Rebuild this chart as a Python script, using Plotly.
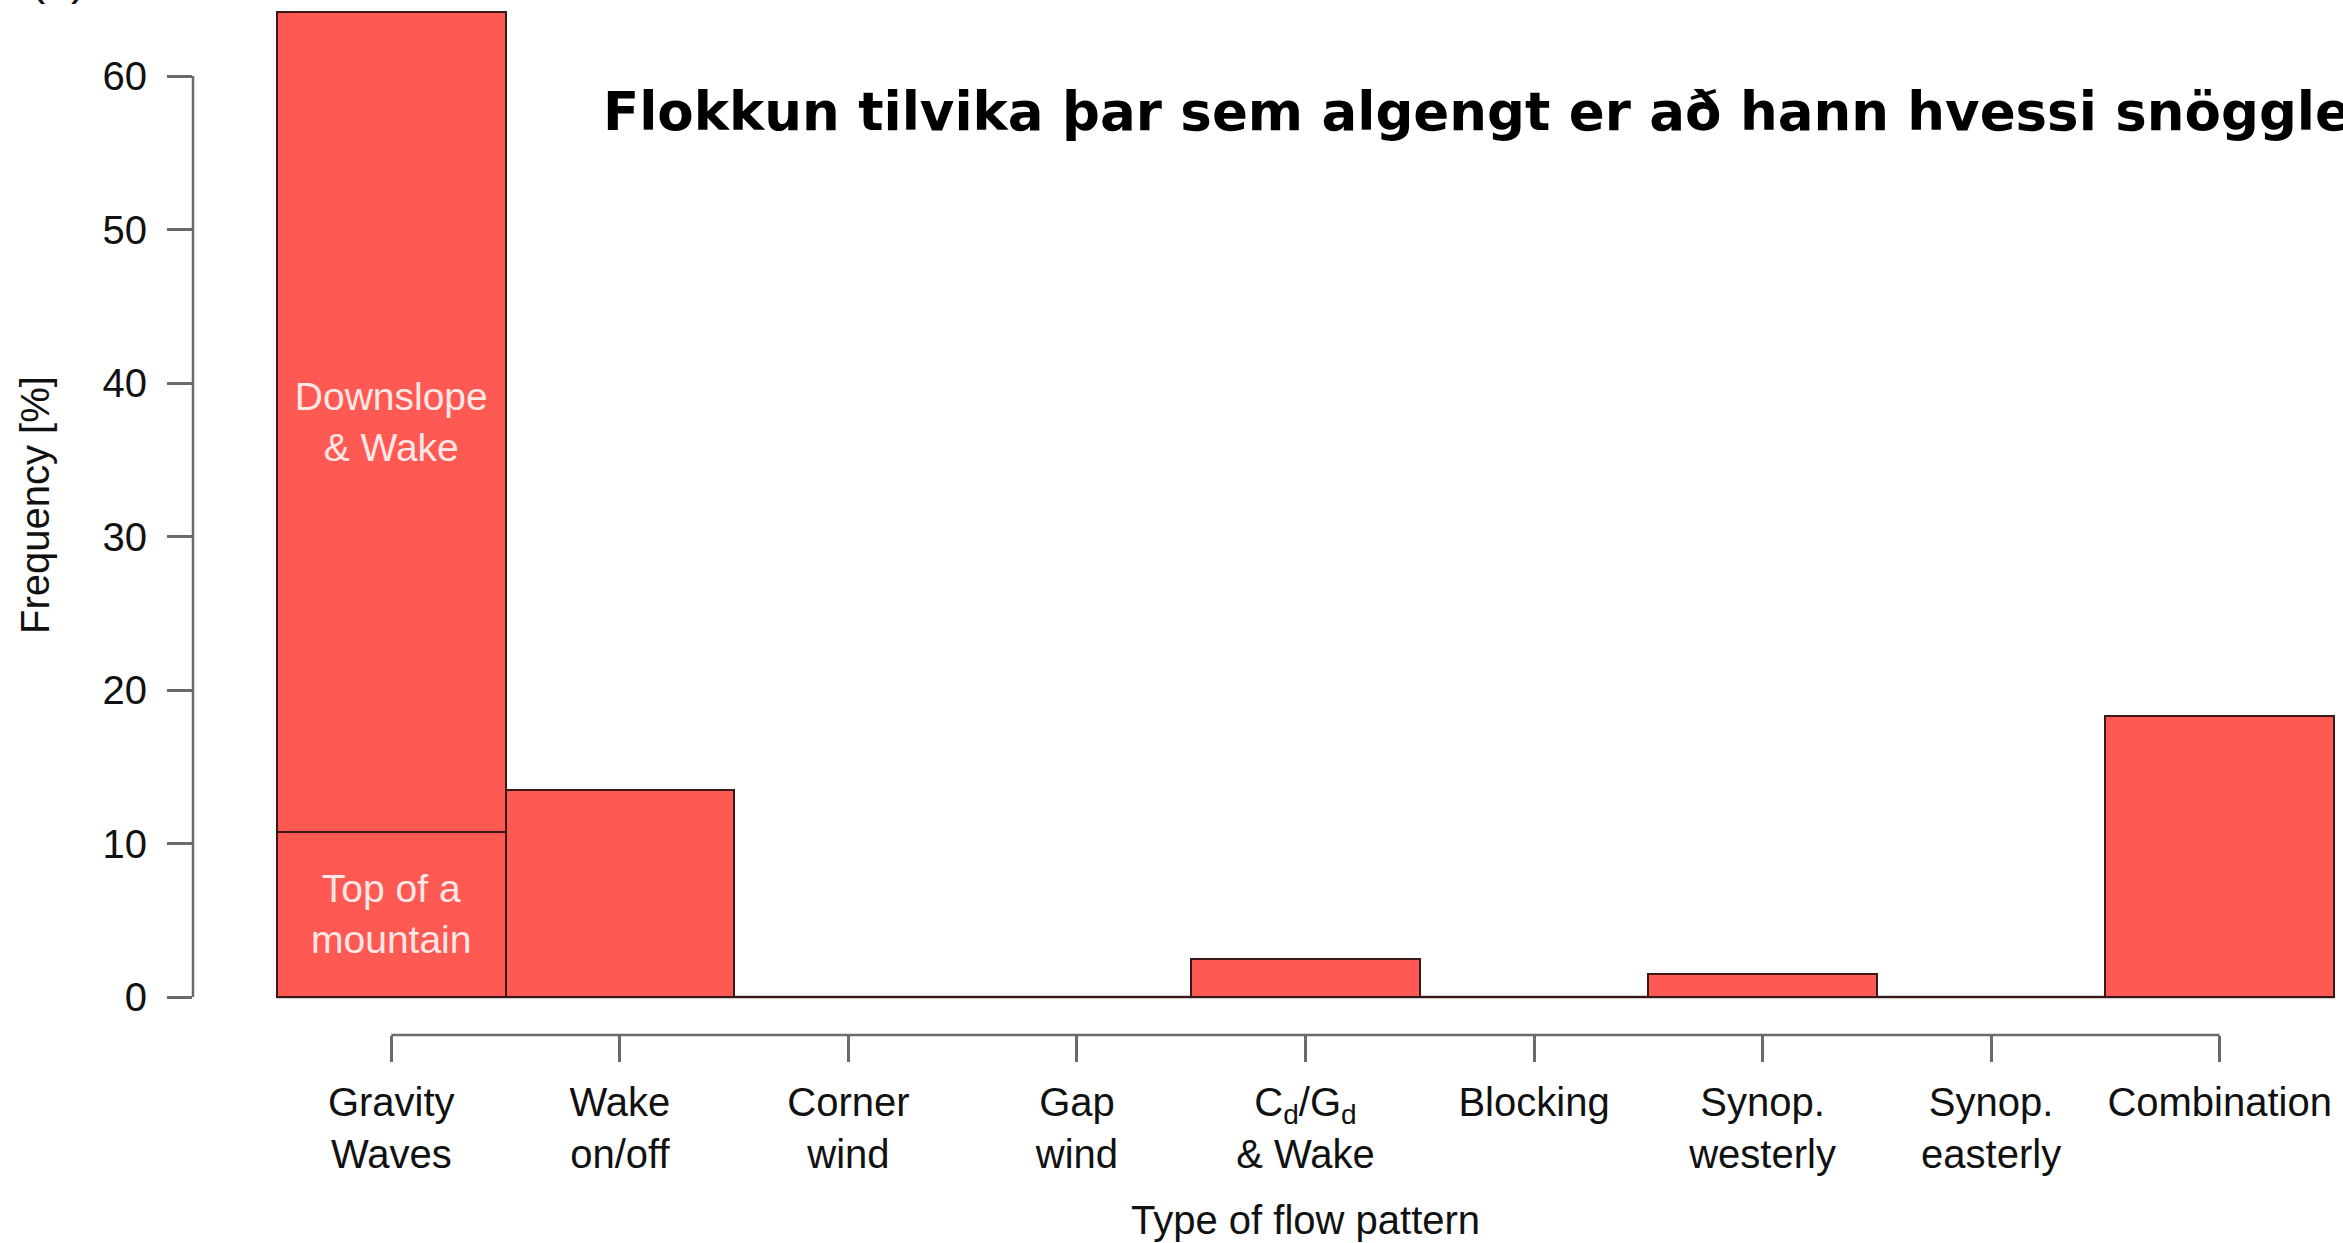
import plotly.graph_objects as go

# ---------------- data ----------------
categories = [
    "Gravity<br>Waves",
    "Wake<br>on/off",
    "Corner<br>wind",
    "Gap<br>wind",
    "C<sub>d</sub>/G<sub>d</sub><br>& Wake",
    "Blocking",
    "Synop.<br>westerly",
    "Synop.<br>easterly",
    "Combination",
]
# lower segment of each bar (for Gravity Waves: "Top of a mountain")
lower_values = [10.75, 13.5, 0, 0, 2.5, 0, 1.5, 0, 18.3]
# upper segment (only Gravity Waves: "Downslope & Wake")
upper_values = [53.45, 0, 0, 0, 0, 0, 0, 0, 0]
lower_text = ["Top of a<br>mountain", None, None, None, None, None, None, None, None]
upper_text = ["Downslope<br>& Wake", None, None, None, None, None, None, None, None]
y_ticks = [0, 10, 20, 30, 40, 50, 60]

title_text = "Flokkun tilvika þar sem algengt er að hann hvessi snögglega"
x_title = "Type of flow pattern"
y_title = "Frequency [%]"

# ---------------- geometry / style ----------------
W, H = 2343, 1243
plot_left, plot_right, plot_top, plot_bottom = 193, 2339, 0, 1035
y0_px, px_per_unit = 997, 15.35
cat_px, bar0_left = 228.55, 277

n = len(categories)
x_idx = list(range(n))
xmin = -0.5 - (bar0_left - plot_left) / cat_px
xmax = xmin + (plot_right - plot_left) / cat_px
ymax = (y0_px - plot_top) / px_per_unit
ymin = -(plot_bottom - y0_px) / px_per_unit
plot_w = plot_right - plot_left
plot_h = plot_bottom - plot_top

BAR_FILL = "#FF5954"
BAR_EDGE = "#3a1818"
AXIS_COL = "#6a6a6a"
TXT_COL = "#111111"
FONT = "Liberation Sans, Arial, sans-serif"
INNER_TXT = "#FFE8E6"

fig = go.Figure()
for vals, txt in ((lower_values, lower_text), (upper_values, upper_text)):
    fig.add_bar(
        x=x_idx,
        y=vals,
        width=1.0,
        text=txt,
        textposition="inside",
        insidetextanchor="middle",
        textangle=0,
        constraintext="none",
        insidetextfont=dict(family=FONT, size=39, color=INNER_TXT),
        marker=dict(color=BAR_FILL, line=dict(color=BAR_EDGE, width=2.5)),
        hoverinfo="skip",
        showlegend=False,
    )

shapes = [
    # baseline under zero-height bars
    dict(type="line", xref="x", yref="y", x0=-0.5, x1=n - 0.5, y0=0, y1=0,
         line=dict(color="#3c3c3c", width=2.5), layer="below"),
    # y axis line (only from first to last tick, R style)
    dict(type="line", xref="paper", yref="y", x0=0, x1=0, y0=y_ticks[0], y1=y_ticks[-1],
         line=dict(color=AXIS_COL, width=2.5)),
    # x axis line (only from first to last tick)
    dict(type="line", xref="x", yref="paper", x0=x_idx[0], x1=x_idx[-1], y0=0, y1=0,
         line=dict(color=AXIS_COL, width=2.5)),
]

annotations = [
    dict(text=x_title, xref="x", x=(n - 1) / 2, yref="paper",
         y=(plot_bottom - 1220) / plot_h, xanchor="center", yanchor="middle",
         showarrow=False, font=dict(family=FONT, size=40, color=TXT_COL)),
    dict(text=y_title, xref="paper", x=(35 - plot_left) / plot_w, yref="paper",
         y=(plot_bottom - 505) / plot_h, xanchor="center", yanchor="middle",
         textangle=-90, showarrow=False, font=dict(family=FONT, size=40, color=TXT_COL)),
    dict(text="(a)", xref="paper", x=(28 - plot_left) / plot_w, yref="paper",
         y=(plot_bottom - 6) / plot_h, xanchor="left", yanchor="bottom",
         showarrow=False, font=dict(family=FONT, size=46, color=TXT_COL)),
]

fig.update_layout(
    width=W,
    height=H,
    margin=dict(l=plot_left, r=W - plot_right, t=plot_top, b=H - plot_bottom, pad=0),
    paper_bgcolor="white",
    plot_bgcolor="white",
    barmode="stack",
    bargap=0,
    title=dict(
        text=title_text,
        xref="container", x=603 / W, xanchor="left",
        yref="container", y=1 - 111 / H, yanchor="middle",
        font=dict(family="DejaVu Sans", size=53, color="#000000", weight="bold"),
    ),
    xaxis=dict(
        range=[xmin, xmax],
        tickmode="array",
        tickvals=x_idx,
        ticktext=categories,
        ticks="outside",
        ticklen=26,
        tickwidth=2.5,
        tickcolor=AXIS_COL,
        showgrid=False,
        zeroline=False,
        showline=False,
        tickfont=dict(family=FONT, size=40, color=TXT_COL),
        ticklabelstandoff=6,
        fixedrange=True,
    ),
    yaxis=dict(
        range=[ymin, ymax],
        tickmode="array",
        tickvals=y_ticks,
        ticks="outside",
        ticklen=25,
        tickwidth=2.5,
        tickcolor=AXIS_COL,
        showgrid=False,
        zeroline=False,
        showline=False,
        tickfont=dict(family=FONT, size=40, color=TXT_COL),
        ticklabelstandoff=12,
        fixedrange=True,
    ),
    shapes=shapes,
    annotations=annotations,
)

fig.write_html(
    "out.html",
    config={"displayModeBar": False},
    post_script="document.body.style.margin='0';document.body.style.overflow='hidden';",
)
